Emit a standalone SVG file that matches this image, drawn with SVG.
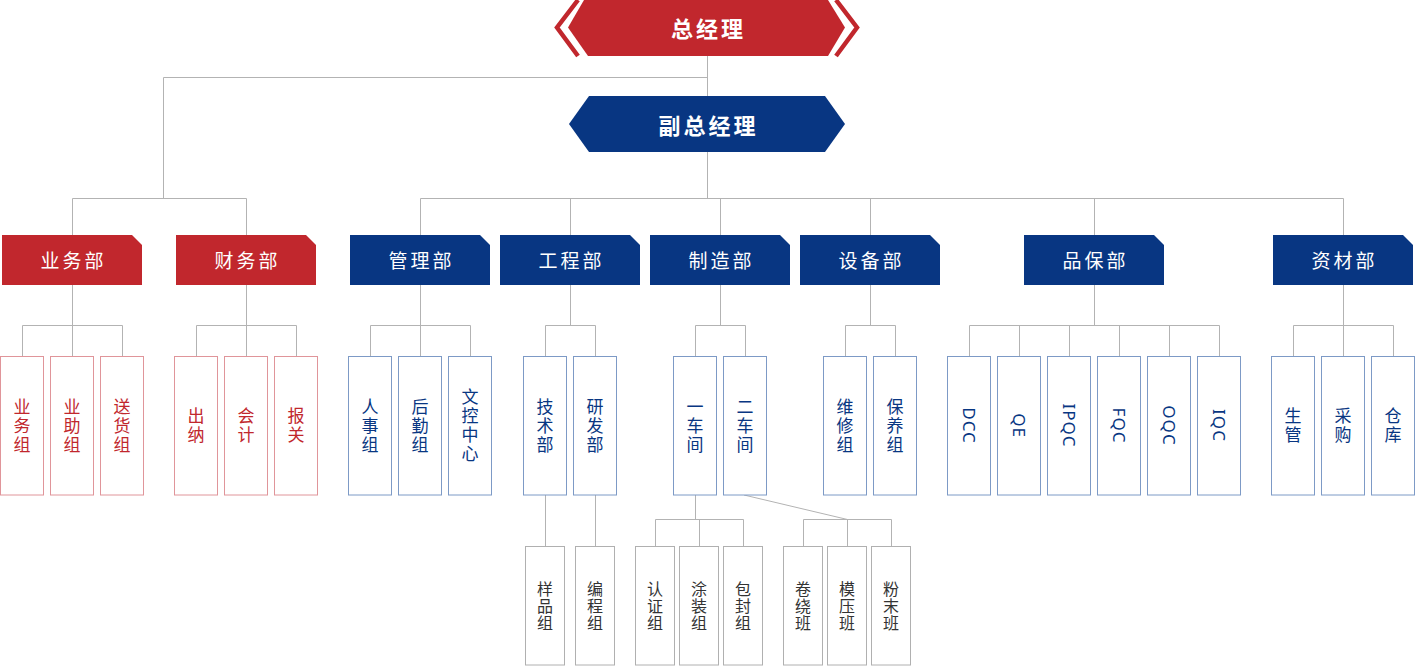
<svg xmlns="http://www.w3.org/2000/svg" width="1415" height="666" viewBox="0 0 1415 666">
<style>
.ln{fill:none;stroke:#b3b3b3;stroke-width:1}
.red{fill:#c1272d}
.blue{fill:#083682}
.top{font-family:"Noto Sans CJK SC","Noto Sans",sans-serif;font-weight:700;font-size:22px;fill:#fff;text-anchor:middle;dominant-baseline:central;letter-spacing:3px}
.dep{font-family:"Noto Sans CJK SC","Noto Sans",sans-serif;font-size:19px;fill:#fff;text-anchor:middle;dominant-baseline:central;letter-spacing:3px}
.rb{fill:#fff;stroke:#e0959a;stroke-width:1}
.bb{fill:#fff;stroke:#7d9ac6;stroke-width:1}
.gb{fill:#fff;stroke:#b0b0b0;stroke-width:1}
.v{writing-mode:vertical-rl;text-anchor:middle;font-family:"Noto Sans CJK SC","Noto Sans",sans-serif}
.rt{font-size:17px;fill:#c1272d;letter-spacing:2px}
.bt{font-size:17px;fill:#083682;letter-spacing:2px}
.gt{font-size:16px;fill:#333;letter-spacing:1px}
.lt{font-family:"Noto Sans","Liberation Sans",sans-serif;font-size:17px;fill:#083682;text-anchor:middle;dominant-baseline:central;letter-spacing:1px}
</style>

<g id="connectors">
<path class="ln" d="M707.5,56V96M707.5,77.5H163.5V198.5M72.5,198.5H246.5M72.5,198.5V235M246.5,198.5V235"/>
<path class="ln" d="M707.5,152V198.5M420.5,198.5H1343.5M420.5,198.5V235M570.5,198.5V235M720.5,198.5V235M870.5,198.5V235M1094.5,198.5V235M1343.5,198.5V235"/>
<path class="ln" d="M72.5,285V356M22.5,325.5H122.5M22.5,325.5V356M122.5,325.5V356"/>
<path class="ln" d="M246.5,285V356M196.5,325.5H296.5M196.5,325.5V356M296.5,325.5V356"/>
<path class="ln" d="M420.5,285V356M370.5,325.5H470.5M370.5,325.5V356M470.5,325.5V356"/>
<path class="ln" d="M570.5,285V325.5M545.5,325.5H595.5M545.5,325.5V356M595.5,325.5V356"/>
<path class="ln" d="M720.5,285V325.5M695.5,325.5H745.5M695.5,325.5V356M745.5,325.5V356"/>
<path class="ln" d="M870.5,285V325.5M845.5,325.5H895.5M845.5,325.5V356M895.5,325.5V356"/>
<path class="ln" d="M1094.5,285V325.5M969.5,325.5H1219.5M969.5,325.5V356M1019.5,325.5V356M1069.5,325.5V356M1119.5,325.5V356M1169.5,325.5V356M1219.5,325.5V356"/>
<path class="ln" d="M1343.5,285V356M1293.5,325.5H1393.5M1293.5,325.5V356M1393.5,325.5V356"/>
<path class="ln" d="M545.5,495V546M595.5,495V546"/>
<path class="ln" d="M695.5,495V519.5M655.5,519.5H743.5M655.5,519.5V546M699.5,519.5V546M743.5,519.5V546"/>
<path class="ln" d="M744,495L847.5,519.5M803.5,519.5H891.5M803.5,519.5V546M847.5,519.5V546M891.5,519.5V546"/>
</g>

<g id="gm">
<polyline points="578,0 557,27.5 578,56" fill="none" stroke="#c1272d" stroke-width="4.5"/>
<polyline points="836,0 857,27.5 836,56" fill="none" stroke="#c1272d" stroke-width="4.5"/>
<polygon class="red" points="568,27.5 584,0 828,0 845,27.5 828,56 588,56"/>
<text class="top" x="708.5" y="27">总经理</text>
</g>

<g id="dgm">
<polygon class="blue" points="569,124 589,96 825,96 845,124 825,152 589,152"/>
<text class="top" x="708.5" y="124">副总经理</text>
</g>

<g id="d-yewu"><polygon class="red" points="2,235 132,235 142,245 142,285 2,285"/><text class="dep" x="73.5" y="259">业务部</text></g>
<g id="d-caiwu"><polygon class="red" points="176,235 306,235 316,245 316,285 176,285"/><text class="dep" x="247.5" y="259">财务部</text></g>
<g id="d-guanli"><polygon class="blue" points="350,235 480,235 490,245 490,285 350,285"/><text class="dep" x="421.5" y="259">管理部</text></g>
<g id="d-gongcheng"><polygon class="blue" points="500,235 630,235 640,245 640,285 500,285"/><text class="dep" x="571.5" y="259">工程部</text></g>
<g id="d-zhizao"><polygon class="blue" points="650,235 780,235 790,245 790,285 650,285"/><text class="dep" x="721.5" y="259">制造部</text></g>
<g id="d-shebei"><polygon class="blue" points="800,235 930,235 940,245 940,285 800,285"/><text class="dep" x="871.5" y="259">设备部</text></g>
<g id="d-pinbao"><polygon class="blue" points="1024,235 1154,235 1164,245 1164,285 1024,285"/><text class="dep" x="1095.5" y="259">品保部</text></g>
<g id="d-zicai"><polygon class="blue" points="1273,235 1403,235 1413,245 1413,285 1273,285"/><text class="dep" x="1344.5" y="259">资材部</text></g>

<!-- level 2 red -->
<g id="n-yewuzu"><rect class="rb" x="0.5" y="356.5" width="43" height="138.5"/><text class="v rt" x="22" y="426.5">业务组</text></g>
<g id="n-yezhuzu"><rect class="rb" x="50.5" y="356.5" width="43" height="138.5"/><text class="v rt" x="72" y="426.5">业助组</text></g>
<g id="n-songhuozu"><rect class="rb" x="100.5" y="356.5" width="43" height="138.5"/><text class="v rt" x="122" y="426.5">送货组</text></g>
<g id="n-chuna"><rect class="rb" x="174.5" y="356.5" width="43" height="138.5"/><text class="v rt" x="196" y="426.5">出纳</text></g>
<g id="n-kuaiji"><rect class="rb" x="224.5" y="356.5" width="43" height="138.5"/><text class="v rt" x="246" y="426.5">会计</text></g>
<g id="n-baoguan"><rect class="rb" x="274.5" y="356.5" width="43" height="138.5"/><text class="v rt" x="296" y="426.5">报关</text></g>

<!-- level 2 blue -->
<g id="n-renshi"><rect class="bb" x="348.5" y="356.5" width="43" height="138.5"/><text class="v bt" x="370" y="426.5">人事组</text></g>
<g id="n-houqin"><rect class="bb" x="398.5" y="356.5" width="43" height="138.5"/><text class="v bt" x="420" y="426.5">后勤组</text></g>
<g id="n-wenkong"><rect class="bb" x="448.5" y="356.5" width="43" height="138.5"/><text class="v bt" x="470" y="426.5">文控中心</text></g>
<g id="n-jishu"><rect class="bb" x="523.5" y="356.5" width="43" height="138.5"/><text class="v bt" x="545" y="426.5">技术部</text></g>
<g id="n-yanfa"><rect class="bb" x="573.5" y="356.5" width="43" height="138.5"/><text class="v bt" x="595" y="426.5">研发部</text></g>
<g id="n-yichejian"><rect class="bb" x="673.5" y="356.5" width="43" height="138.5"/><text class="v bt" x="695" y="426.5">一车间</text></g>
<g id="n-erchejian"><rect class="bb" x="723.5" y="356.5" width="43" height="138.5"/><text class="v bt" x="745" y="426.5">二车间</text></g>
<g id="n-weixiu"><rect class="bb" x="823.5" y="356.5" width="43" height="138.5"/><text class="v bt" x="845" y="426.5">维修组</text></g>
<g id="n-baoyang"><rect class="bb" x="873.5" y="356.5" width="43" height="138.5"/><text class="v bt" x="895" y="426.5">保养组</text></g>
<g id="n-dcc"><rect class="bb" x="947.5" y="356.5" width="43" height="138.5"/><text class="lt" transform="translate(969,425.5) rotate(90)" x="0" y="0">DCC</text></g>
<g id="n-qe"><rect class="bb" x="997.5" y="356.5" width="43" height="138.5"/><text class="lt" transform="translate(1019,425.5) rotate(90)" x="0" y="0">QE</text></g>
<g id="n-ipqc"><rect class="bb" x="1047.5" y="356.5" width="43" height="138.5"/><text class="lt" transform="translate(1069,425.5) rotate(90)" x="0" y="0">IPQC</text></g>
<g id="n-fqc"><rect class="bb" x="1097.5" y="356.5" width="43" height="138.5"/><text class="lt" transform="translate(1119,425.5) rotate(90)" x="0" y="0">FQC</text></g>
<g id="n-oqc"><rect class="bb" x="1147.5" y="356.5" width="43" height="138.5"/><text class="lt" transform="translate(1169,425.5) rotate(90)" x="0" y="0">OQC</text></g>
<g id="n-iqc"><rect class="bb" x="1197.5" y="356.5" width="43" height="138.5"/><text class="lt" transform="translate(1219,425.5) rotate(90)" x="0" y="0">IQC</text></g>
<g id="n-shengguan"><rect class="bb" x="1271.5" y="356.5" width="43" height="138.5"/><text class="v bt" x="1293" y="426.5">生管</text></g>
<g id="n-caigou"><rect class="bb" x="1321.5" y="356.5" width="43" height="138.5"/><text class="v bt" x="1343" y="426.5">采购</text></g>
<g id="n-cangku"><rect class="bb" x="1371.5" y="356.5" width="43" height="138.5"/><text class="v bt" x="1393" y="426.5">仓库</text></g>

<!-- level 3 -->
<g id="n-yangpin"><rect class="gb" x="525.5" y="546.5" width="39" height="118.5"/><text class="v gt" x="545" y="606">样品组</text></g>
<g id="n-biancheng"><rect class="gb" x="575.5" y="546.5" width="39" height="118.5"/><text class="v gt" x="595" y="606">编程组</text></g>
<g id="n-renzheng"><rect class="gb" x="635.5" y="546.5" width="39" height="118.5"/><text class="v gt" x="655" y="606">认证组</text></g>
<g id="n-tuzhuang"><rect class="gb" x="679.5" y="546.5" width="39" height="118.5"/><text class="v gt" x="699" y="606">涂装组</text></g>
<g id="n-baofeng"><rect class="gb" x="723.5" y="546.5" width="39" height="118.5"/><text class="v gt" x="743" y="606">包封组</text></g>
<g id="n-juanrao"><rect class="gb" x="783.5" y="546.5" width="39" height="118.5"/><text class="v gt" x="803" y="606">卷绕班</text></g>
<g id="n-moya"><rect class="gb" x="827.5" y="546.5" width="39" height="118.5"/><text class="v gt" x="847" y="606">模压班</text></g>
<g id="n-fenmo"><rect class="gb" x="871.5" y="546.5" width="39" height="118.5"/><text class="v gt" x="891" y="606">粉末班</text></g>
</svg>
